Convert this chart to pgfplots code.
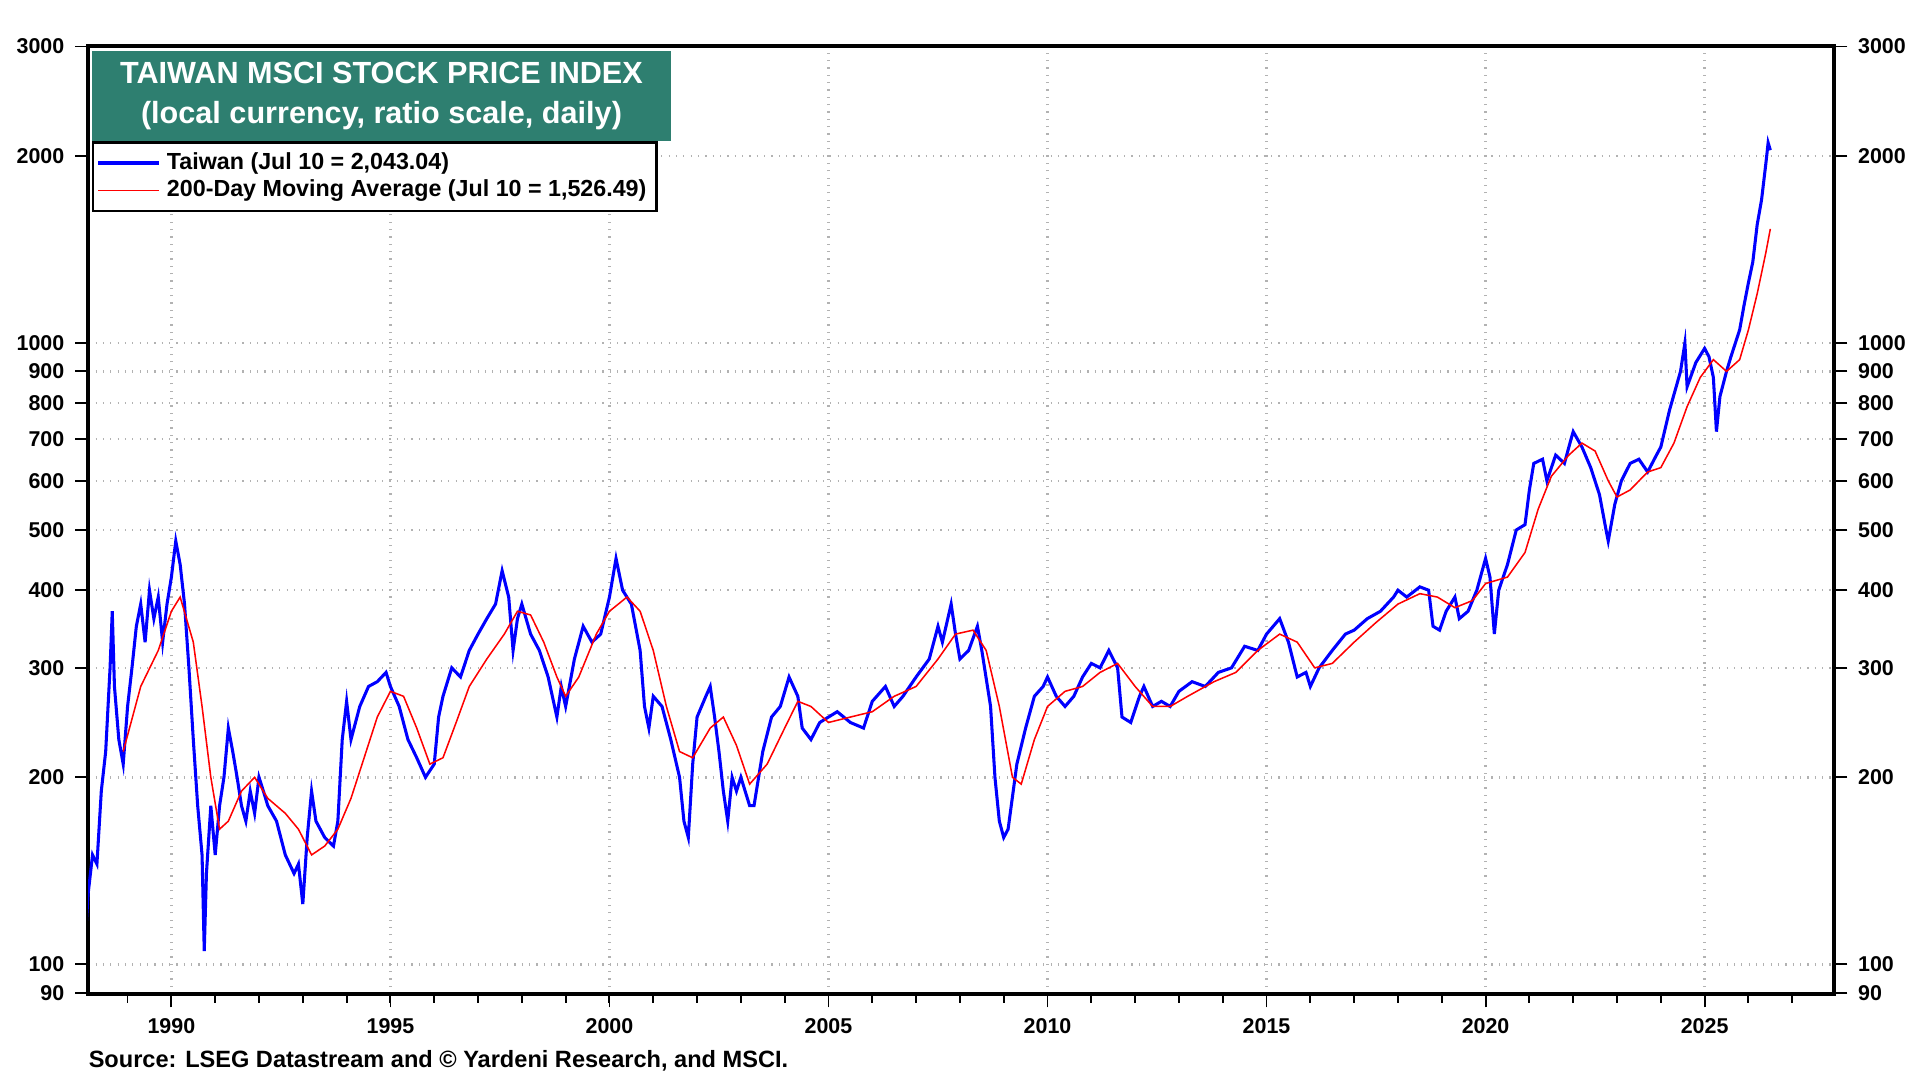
\documentclass[border=0pt]{standalone}
\usepackage{pgfplots}
\pgfplotsset{compat=1.18}
\usepackage{fontspec}
\setmainfont{Liberation Sans}
\definecolor{teal2}{HTML}{2E7F70}
\begin{document}
\begin{tikzpicture}
\path[use as bounding box] (0,0) rectangle (627.2pt,352.8pt);
\begin{axis}[at={(28.8pt,28pt)},anchor=south west,width=570.4pt,height=309.6pt,scale only axis,
 ymode=log, ymin=89.5, ymax=3000, xmin=1988.1, xmax=2027.96,
 xtick={1990,1995,...,2025}, minor xtick={1988,...,2027},
 ytick={90,100,200,300,400,500,600,700,800,900,1000,2000,3000},
 yticklabels={90,100,200,300,400,500,600,700,800,900,1000,2000,3000},
 grid=major, major grid style={gray!60,dotted,line width=0.8pt},
 axis line style={line width=1.3pt}, tick style={black,line width=0.6pt},
 ytick pos=left, xtick pos=bottom, tick align=outside,
 ticklabel style={font=\bfseries\fontsize{7}{8}\selectfont},
 /pgf/number format/assume math mode=true,
 xticklabel={\pgfmathprintnumber[1000 sep={}]{\tick}},
 legend style={at={(rel axis cs:0.002,0.9)},anchor=north west,font=\bfseries\fontsize{7.6}{8}\selectfont,draw=black,line width=0.8pt,inner sep=1.2pt,row sep=-2pt},
 legend image code/.code={\draw[#1] (0pt,0pt) -- (20pt,0pt);},
 legend cell align=left,
 clip=true]
\addplot[blue,line width=1pt] coordinates {(1988.0,100)(1988.1,130)(1988.2,150)(1988.3,145)(1988.4,190)(1988.5,220)(1988.6,300)(1988.65,370)(1988.7,280)(1988.8,230)(1988.9,210)(1989.0,260)(1989.1,300)(1989.2,350)(1989.3,380)(1989.4,330)(1989.5,400)(1989.6,360)(1989.7,390)(1989.8,330)(1989.9,380)(1990.0,420)(1990.1,480)(1990.2,440)(1990.3,380)(1990.4,300)(1990.5,230)(1990.6,180)(1990.7,150)(1990.75,105)(1990.8,140)(1990.9,180)(1991.0,150)(1991.1,180)(1991.2,200)(1991.3,240)(1991.4,220)(1991.5,200)(1991.6,180)(1991.7,170)(1991.8,190)(1991.9,175)(1992.0,200)(1992.1,190)(1992.2,180)(1992.4,170)(1992.6,150)(1992.8,140)(1992.9,145)(1993.0,125)(1993.1,160)(1993.2,190)(1993.3,170)(1993.5,160)(1993.7,155)(1993.8,170)(1993.9,230)(1994.0,265)(1994.1,230)(1994.3,260)(1994.5,280)(1994.7,285)(1994.9,295)(1995.0,280)(1995.2,260)(1995.4,230)(1995.6,215)(1995.8,200)(1996.0,210)(1996.1,250)(1996.2,270)(1996.4,300)(1996.6,290)(1996.8,320)(1997.0,340)(1997.2,360)(1997.4,380)(1997.55,430)(1997.7,390)(1997.8,320)(1997.9,360)(1998.0,380)(1998.2,340)(1998.4,320)(1998.6,290)(1998.8,250)(1998.9,280)(1999.0,260)(1999.2,310)(1999.4,350)(1999.6,330)(1999.8,340)(2000.0,390)(2000.15,450)(2000.3,400)(2000.5,380)(2000.7,320)(2000.8,260)(2000.9,240)(2001.0,270)(2001.2,260)(2001.4,230)(2001.6,200)(2001.7,170)(2001.8,160)(2001.9,210)(2002.0,250)(2002.2,270)(2002.3,280)(2002.4,250)(2002.5,220)(2002.6,190)(2002.7,170)(2002.8,200)(2002.9,190)(2003.0,200)(2003.2,180)(2003.3,180)(2003.5,220)(2003.7,250)(2003.9,260)(2004.1,290)(2004.3,270)(2004.4,240)(2004.6,230)(2004.8,245)(2005.0,250)(2005.2,255)(2005.5,245)(2005.8,240)(2006.0,265)(2006.3,280)(2006.5,260)(2006.7,270)(2007.0,290)(2007.3,310)(2007.5,350)(2007.6,330)(2007.8,380)(2007.9,340)(2008.0,310)(2008.2,320)(2008.4,350)(2008.5,320)(2008.7,260)(2008.8,200)(2008.9,170)(2009.0,160)(2009.1,165)(2009.3,210)(2009.5,240)(2009.7,270)(2009.9,280)(2010.0,290)(2010.2,270)(2010.4,260)(2010.6,270)(2010.8,290)(2011.0,305)(2011.2,300)(2011.4,320)(2011.6,300)(2011.7,250)(2011.9,245)(2012.1,270)(2012.2,280)(2012.4,260)(2012.6,265)(2012.8,260)(2013.0,275)(2013.3,285)(2013.6,280)(2013.9,295)(2014.2,300)(2014.5,325)(2014.8,320)(2015.0,340)(2015.3,360)(2015.5,330)(2015.7,290)(2015.9,295)(2016.0,280)(2016.2,300)(2016.5,320)(2016.8,340)(2017.0,345)(2017.3,360)(2017.6,370)(2017.9,390)(2018.0,400)(2018.2,390)(2018.5,405)(2018.7,400)(2018.8,350)(2018.95,345)(2019.1,370)(2019.3,390)(2019.4,360)(2019.6,370)(2019.8,400)(2020.0,450)(2020.1,420)(2020.2,340)(2020.3,400)(2020.5,440)(2020.7,500)(2020.9,510)(2021.0,580)(2021.1,640)(2021.3,650)(2021.4,600)(2021.6,660)(2021.8,640)(2021.95,700)(2022.0,720)(2022.2,680)(2022.4,630)(2022.6,570)(2022.75,500)(2022.8,480)(2022.95,550)(2023.1,600)(2023.3,640)(2023.5,650)(2023.7,620)(2023.9,660)(2024.0,680)(2024.2,780)(2024.45,900)(2024.55,1000)(2024.6,850)(2024.8,930)(2025.0,980)(2025.1,950)(2025.2,880)(2025.27,720)(2025.35,820)(2025.5,900)(2025.6,950)(2025.8,1050)(2025.9,1150)(2026.0,1250)(2026.1,1350)(2026.2,1550)(2026.3,1700)(2026.4,1950)(2026.45,2100)(2026.5,2043)};
\addlegendentry{Taiwan (Jul 10 = 2,043.04)}
\addplot[red,line width=0.5pt] coordinates {(1988.9,220)(1989.3,280)(1989.7,320)(1990.0,370)(1990.2,390)(1990.5,330)(1990.7,260)(1990.9,200)(1991.1,165)(1991.3,170)(1991.6,190)(1991.9,200)(1992.2,185)(1992.6,175)(1992.9,165)(1993.2,150)(1993.5,155)(1993.8,165)(1994.1,185)(1994.4,215)(1994.7,250)(1995.0,275)(1995.3,270)(1995.6,240)(1995.9,210)(1996.2,215)(1996.5,245)(1996.8,280)(1997.2,310)(1997.6,340)(1997.9,370)(1998.2,365)(1998.5,330)(1998.8,290)(1999.0,270)(1999.3,290)(1999.7,340)(2000.0,370)(2000.4,390)(2000.7,370)(2001.0,320)(2001.3,260)(2001.6,220)(2001.9,215)(2002.3,240)(2002.6,250)(2002.9,225)(2003.2,195)(2003.6,210)(2004.0,240)(2004.3,265)(2004.6,260)(2005.0,245)(2005.5,250)(2006.0,255)(2006.5,270)(2007.0,280)(2007.5,310)(2007.9,340)(2008.3,345)(2008.6,320)(2008.9,260)(2009.2,200)(2009.4,195)(2009.7,230)(2010.0,260)(2010.4,275)(2010.8,280)(2011.2,295)(2011.6,305)(2012.0,280)(2012.4,260)(2012.8,260)(2013.2,270)(2013.8,285)(2014.3,295)(2014.8,320)(2015.3,340)(2015.7,330)(2016.1,300)(2016.5,305)(2017.0,330)(2017.5,355)(2018.0,380)(2018.5,395)(2018.9,390)(2019.3,375)(2019.7,385)(2020.0,410)(2020.5,420)(2020.9,460)(2021.2,540)(2021.5,610)(2021.9,660)(2022.2,690)(2022.5,670)(2022.8,600)(2023.0,565)(2023.3,580)(2023.7,620)(2024.0,630)(2024.3,690)(2024.6,790)(2024.9,880)(2025.2,940)(2025.5,900)(2025.8,940)(2026.0,1050)(2026.2,1200)(2026.4,1400)(2026.5,1526)};
\addlegendentry{200-Day Moving Average (Jul 10 = 1,526.49)}
\fill[teal2] (rel axis cs:0.002,0.995) rectangle (rel axis cs:0.334,0.9005);
\node[white,font=\bfseries\fontsize{10}{13}\selectfont,align=center] at (rel axis cs:0.168,0.948) {TAIWAN MSCI STOCK PRICE INDEX\\(local currency, ratio scale, daily)};
\end{axis}
\begin{axis}[at={(28.8pt,28pt)},anchor=south west,width=570.4pt,height=309.6pt,scale only axis,
 ymode=log, ymin=89.5, ymax=3000, xmin=1988.1, xmax=2027.96,
 axis y line*=right, axis x line=none, tick align=outside,
 ytick={90,100,200,300,400,500,600,700,800,900,1000,2000,3000},
 yticklabels={90,100,200,300,400,500,600,700,800,900,1000,2000,3000},
 axis line style={line width=1.3pt}, tick style={black,line width=0.6pt},
 ticklabel style={font=\bfseries\fontsize{7}{8}\selectfont},
 /pgf/number format/assume math mode=true]
\addplot[draw=none] coordinates {(2000,100)};
\end{axis}
\node[anchor=west,font=\bfseries\fontsize{7.7}{9}\selectfont,inner sep=0pt] at (28.8pt,6.2pt) {Source: LSEG Datastream and © Yardeni Research, and MSCI.};
\end{tikzpicture}
\end{document}
